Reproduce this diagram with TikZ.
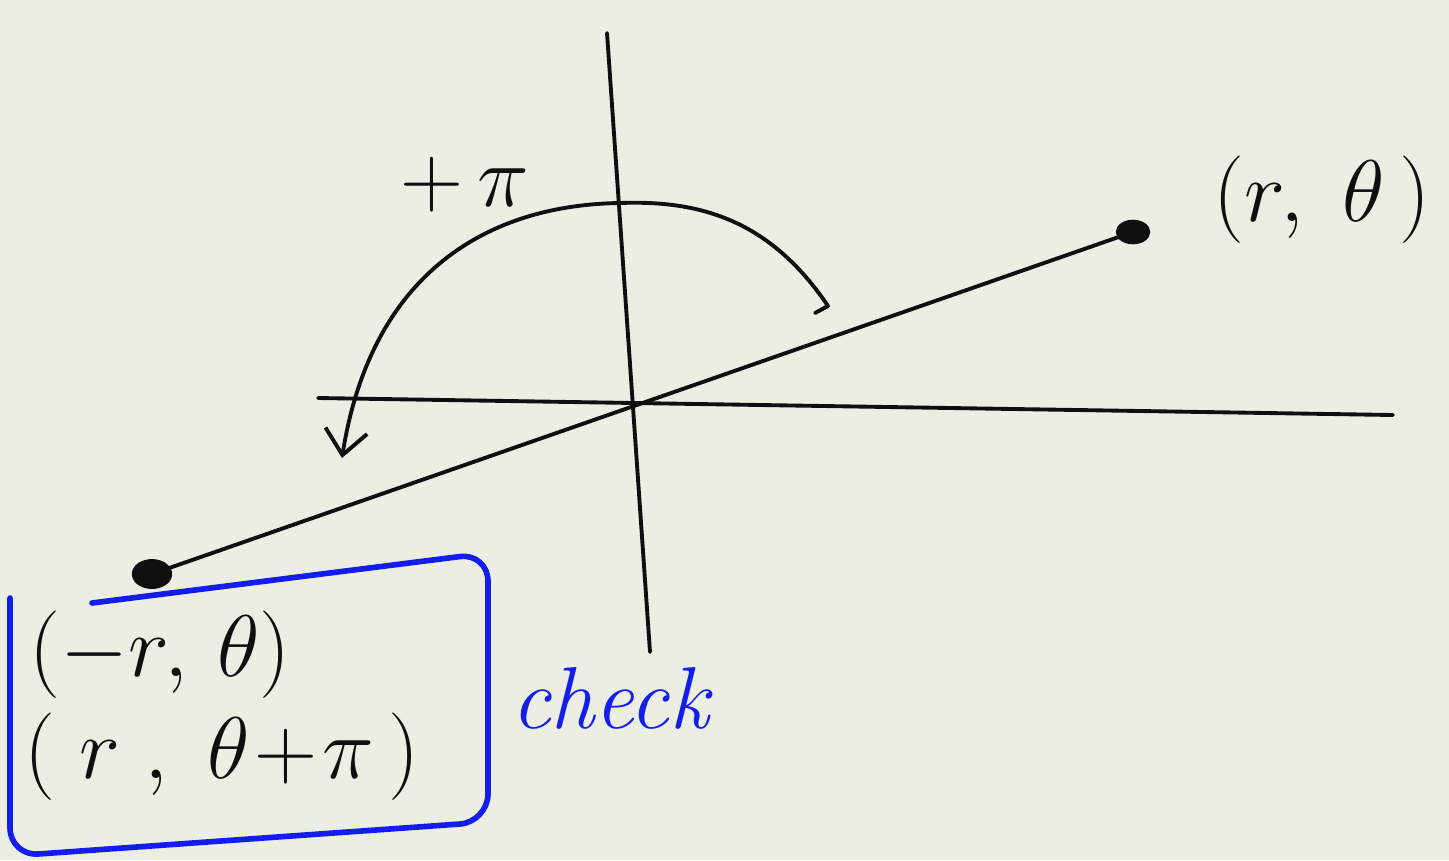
\documentclass[tikz,border=0pt]{standalone}
\usetikzlibrary{arrows.meta}
\definecolor{paper}{RGB}{236,237,227}
\definecolor{ink}{RGB}{15,15,15}
\definecolor{pen}{RGB}{20,30,235}
\begin{document}
\begin{tikzpicture}[x=0.01cm,y=-0.01cm,
  stroke/.style={draw=ink,line width=1.1pt,line cap=round,line join=round},
  lbl/.style={text=ink,font=\fontsize{34}{40}\selectfont,inner sep=0pt},
  bluelbl/.style={text=pen,font=\fontsize{25}{30}\selectfont\itshape,inner sep=0pt}]
\fill[paper] (0,0) rectangle (1449,860);
\useasboundingbox (0,0) rectangle (1449,860);
% axes
\coordinate (vt) at (607,33);
\coordinate (vb) at (650,652);
\coordinate (hl) at (318,398);
\coordinate (hr) at (1393,415);
\draw[stroke] (vt) -- (vb);
\draw[stroke] (hl) -- (hr);
% points
\node[circle,fill=ink,minimum size=7pt,inner sep=0pt,xscale=1.4] (P) at (1133,232) {};
\node[circle,fill=ink,minimum size=8.5pt,inner sep=0pt,xscale=1.35,rotate=-25] (Q) at (152,574) {};
\draw[stroke] (P.center) -- (Q.center);
% labels
\node[lbl] (Plbl) at (1322,200) {$(r,\;\theta\,)$};
\node[lbl] (pilbl) at (465,185) {$+\,\pi$};
% arc with arrow
\coordinate (as) at (815,313);
\coordinate (at) at (342,458);
\draw[stroke,-{Straight Barb[length=7pt,width=12pt]}] (as) -- (828,306)
  .. controls (770,220) and (700,200) .. (620,203)
  .. controls (480,205) and (370,280) .. (at);
% blue box
\draw[draw=pen,line width=1.6pt,rounded corners=8pt,line cap=round] (92,603) -- (488,553) -- (488,822) -- (10,856) -- (10,598);
\node[lbl] (l1) at (160,655) {$(-r,\,\theta)$};
\node[lbl] (l2) at (222,757) {$(\;r\;,\;\theta\!+\!\pi\,)$};
\node[bluelbl] (chk) at (610,698) {check};
\end{tikzpicture}
\end{document}
